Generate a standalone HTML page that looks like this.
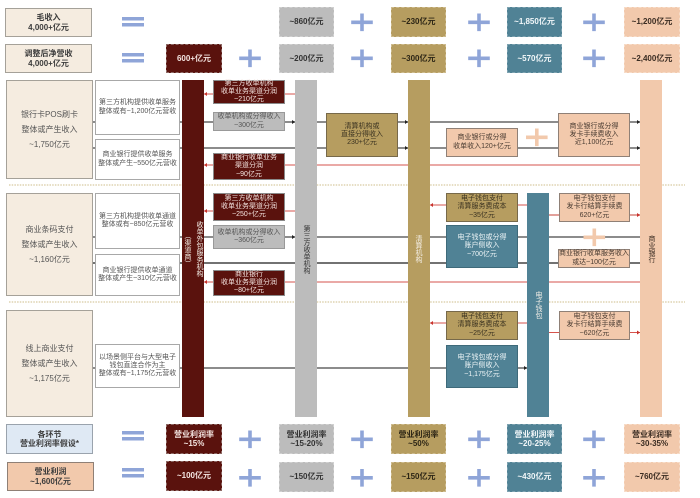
<!DOCTYPE html>
<html lang="zh"><head><meta charset="utf-8">
<style>
html,body{margin:0;padding:0;background:#fff}
#p{position:relative;width:700px;height:498px;overflow:hidden;font-family:"Liberation Sans","Noto Sans CJK SC",sans-serif;color:#3c3c3c;filter:blur(.3px)}
#p>div{position:absolute;box-sizing:border-box;display:flex;align-items:center;justify-content:center;text-align:center;font-size:7px;line-height:8.2px;white-space:nowrap}
svg{position:absolute;left:0;top:0}
.l{background:#f5ece0;border:1.2px solid #a5a199;font-size:8px!important;line-height:15px!important;color:#555}
.h{background:#f5ece0;border:1.2px solid #a5a199;font-size:8px!important;line-height:9.5px!important;font-weight:bold}
.w{background:#fff;border:1.2px solid #a8a8a8;color:#555}
.d{background:#5a120d;color:#f3e3df;border:1px solid #8a8a8a}
.g{background:#bcbcbc;border:1px solid #999;color:#555}
.o{background:#b69d60;border:1px solid #77694a;color:#3a3220}
.t{background:#508295;border:1px solid #3e6a7a;color:#eef5f7}
.e{background:#f2c9ac;border:1px solid #8f8076;color:#4a3c32}
.bar{z-index:1}
.b{font-size:8px!important;line-height:9.5px!important;font-weight:bold;border-style:dashed;border-width:1px}
.b.kd{background:#5a120d;color:#f5e6e2;border-color:#8e6a66}
.b.kg{background:#bcbcbc;color:#333;border-color:#d0d0d0}
.b.ko{background:#b69d60;color:#2c2515;border-color:#cdbb8e}
.b.kt{background:#508295;color:#f2f7f9;border-color:#7da2b0}
.b.ke{background:#f2c9ac;color:#3a2c22;border-color:#f7dcc8}
.v{writing-mode:vertical-rl;color:#f5f0e8;font-size:7px!important;line-height:12px!important;width:12px;height:100px;z-index:2}
</style></head><body><div id="p">
<svg width="700" height="498" viewBox="0 0 700 498">
<g stroke="#d8c9a0" stroke-width="1.2" stroke-dasharray="1.5 1.2"><line x1="9" y1="185" x2="685" y2="185"/><line x1="9" y1="302" x2="685" y2="302"/></g>
<g stroke="#666" stroke-width="1.4" fill="none">
<line x1="93" y1="122" x2="640" y2="122"/><line x1="93" y1="148" x2="640" y2="148"/>
<line x1="93" y1="237" x2="640" y2="237"/><line x1="93" y1="263" x2="640" y2="263" stroke="#444"/>
<line x1="93" y1="368" x2="527" y2="368"/>
</g>
<g stroke="#d6534c" stroke-width="1" fill="none">
<line x1="204" y1="94" x2="295" y2="94"/><line x1="204" y1="165" x2="640" y2="165"/>
<line x1="204" y1="211" x2="295" y2="211"/><line x1="204" y1="282" x2="640" y2="282"/>
<line x1="430" y1="205" x2="527" y2="205"/><line x1="430" y1="323" x2="527" y2="323"/>
<line x1="549" y1="215" x2="640" y2="215" stroke-width="1.4" stroke="#d98078"/><line x1="549" y1="332.500" x2="640" y2="332.500"/>
</g>
<g fill="#c8322c">
<path d="M204 94l3-2v4z"/><path d="M204 165l3-2v4z"/><path d="M204 211l3-2v4z"/><path d="M204 282l3-2v4z"/>
<path d="M430 205l3-2v4z"/><path d="M430 323l3-2v4z"/><path d="M640 215l-3-2v4z"/><path d="M640 332.500l-3-2v4z"/>
</g>
<g fill="#222">
<path d="M295 122l-3-2v4z"/><path d="M295 237l-3-2v4z"/><path d="M408 122l-3-2v4z"/><path d="M408 148l-3-2v4z"/><path d="M640 122l-3-2v4z"/><path d="M640 148l-3-2v4z"/><path d="M527 368l-3-2v4z"/>
</g>
<g fill="#8fa5d8">
<rect x="122" y="17" width="22" height="3.500"/><rect x="122" y="23" width="22" height="3.500"/>
<rect x="122" y="53" width="22" height="3.500"/><rect x="122" y="59" width="22" height="3.500"/>
<rect x="122" y="431" width="22" height="3.500"/><rect x="122" y="437" width="22" height="3.500"/>
<rect x="122" y="468" width="22" height="3.500"/><rect x="122" y="474" width="22" height="3.500"/>
<path d="M360.200 13.500h3.600v7h9v3.600h-9v7h-3.600v-7h-9v-3.600h9z"/>
<path d="M477.200 13.500h3.600v7h9v3.600h-9v7h-3.600v-7h-9v-3.600h9z"/>
<path d="M592.200 13.500h3.600v7h9v3.600h-9v7h-3.600v-7h-9v-3.600h9z"/>
<path d="M248.200 49.500h3.600v7h9v3.600h-9v7h-3.600v-7h-9v-3.600h9z"/>
<path d="M360.200 49.500h3.600v7h9v3.600h-9v7h-3.600v-7h-9v-3.600h9z"/>
<path d="M477.200 49.500h3.600v7h9v3.600h-9v7h-3.600v-7h-9v-3.600h9z"/>
<path d="M592.200 49.500h3.600v7h9v3.600h-9v7h-3.600v-7h-9v-3.600h9z"/>
<path d="M248.200 430.500h3.600v7h9v3.600h-9v7h-3.600v-7h-9v-3.600h9z"/>
<path d="M360.200 430.500h3.600v7h9v3.600h-9v7h-3.600v-7h-9v-3.600h9z"/>
<path d="M477.200 430.500h3.600v7h9v3.600h-9v7h-3.600v-7h-9v-3.600h9z"/>
<path d="M592.200 430.500h3.600v7h9v3.600h-9v7h-3.600v-7h-9v-3.600h9z"/>
<path d="M248.200 469h3.600v7h9v3.600h-9v7h-3.600v-7h-9v-3.600h9z"/>
<path d="M360.200 469h3.600v7h9v3.600h-9v7h-3.600v-7h-9v-3.600h9z"/>
<path d="M477.200 469h3.600v7h9v3.600h-9v7h-3.600v-7h-9v-3.600h9z"/>
<path d="M592.200 469h3.600v7h9v3.600h-9v7h-3.600v-7h-9v-3.600h9z"/>
</g>
<g fill="#f2c9ac">
<path d="M535 128.500h3.600v7h9v3.600h-9v7h-3.600v-7h-9v-3.600h9z"/>
<path d="M592.500 228.500h3.600v7h9v3.600h-9v7h-3.600v-7h-9v-3.600h9z"/>
</g>
</svg>

<div class="h" style="left:5px;top:8px;width:87px;height:29px">毛收入<br>4,000+亿元</div>
<div class="h" style="left:5px;top:44px;width:87px;height:29px">调整后净营收<br>4,000+亿元</div>
<div class="b kd" style="left:166px;top:44px;width:56px;height:29px">600+亿元</div>
<div class="b kg" style="left:279px;top:7px;width:55px;height:30px">~860亿元</div>
<div class="b kg" style="left:279px;top:44px;width:55px;height:29px">~200亿元</div>
<div class="b ko" style="left:391px;top:7px;width:55px;height:30px">~230亿元</div>
<div class="b ko" style="left:391px;top:44px;width:55px;height:29px">~300亿元</div>
<div class="b kt" style="left:507px;top:7px;width:55px;height:30px">~1,850亿元</div>
<div class="b kt" style="left:507px;top:44px;width:55px;height:29px">~570亿元</div>
<div class="b ke" style="left:624px;top:7px;width:56px;height:30px">~1,200亿元</div>
<div class="b ke" style="left:624px;top:44px;width:56px;height:29px">~2,400亿元</div>

<div class="bar" style="left:182px;top:80px;width:22px;height:337px;background:#5a120d"></div>
<div class="bar" style="left:295px;top:80px;width:22px;height:337px;background:#bcbcbc"></div>
<div class="bar" style="left:408px;top:80px;width:22px;height:337px;background:#b69d60"></div>
<div class="bar" style="left:527px;top:193px;width:22px;height:224px;background:#508295"></div>
<div class="bar" style="left:640px;top:80px;width:22px;height:337px;background:#f2c9ac"></div>
<div class="v" style="left:193px;top:199px">收单外包服务机构</div>
<div class="v" style="left:181px;top:199px">（渠道商）</div>
<div class="v" style="left:300px;top:199px;color:#333">第三方收单机构</div>
<div class="v" style="left:412px;top:199px">清算机构</div>
<div class="v" style="left:532px;top:255px">电子钱包</div>
<div class="v" style="left:645px;top:199px;color:#3a2c22">商业银行</div>

<div class="l" style="left:6px;top:80px;width:87px;height:99px">银行卡POS刷卡<br>整体或产生收入<br>~1,750亿元</div>
<div class="w" style="left:95px;top:80px;width:85px;height:55px">第三方机构提供收单服务<br>整体或有~1,200亿元营收</div>
<div class="w" style="left:95px;top:139px;width:85px;height:41px">商业银行提供收单服务<br>整体或产生~550亿元营收</div>
<div class="d" style="left:213px;top:80px;width:72px;height:24px">第三方收单机构<br>收单业务渠道分润<br>~210亿元</div>
<div class="g" style="left:213px;top:112px;width:72px;height:19px">收单机构或分得收入<br>~300亿元</div>
<div class="d" style="left:213px;top:153px;width:72px;height:27px">商业银行收单业务<br>渠道分润<br>~90亿元</div>
<div class="o" style="left:326px;top:113px;width:72px;height:44px">清算机构或<br>直接分得收入<br>230+亿元</div>
<div class="e" style="left:446px;top:128px;width:72px;height:29px">商业银行或分得<br>收单收入120+亿元</div>
<div class="e" style="left:558px;top:113px;width:72px;height:44px">商业银行或分得<br>发卡手续费收入<br>近1,100亿元</div>

<div class="l" style="left:6px;top:193px;width:87px;height:103px">商业条码支付<br>整体或产生收入<br>~1,160亿元</div>
<div class="w" style="left:95px;top:193px;width:85px;height:56px">第三方机构提供收单通道<br>整体或有~850亿元营收</div>
<div class="w" style="left:95px;top:254px;width:85px;height:42px">商业银行提供收单通道<br>整体或产生~310亿元营收</div>
<div class="d" style="left:213px;top:193px;width:72px;height:28px">第三方收单机构<br>收单业务渠道分润<br>~250+亿元</div>
<div class="g" style="left:213px;top:225px;width:72px;height:24px">收单机构或分得收入<br>~360亿元</div>
<div class="d" style="left:213px;top:270px;width:72px;height:26px">商业银行<br>收单业务渠道分润<br>~80+亿元</div>
<div class="o" style="left:446px;top:193px;width:72px;height:29px">电子钱包支付<br>清算服务费成本<br>~35亿元</div>
<div class="t" style="left:446px;top:225px;width:72px;height:43px">电子钱包或分得<br>账户侧收入<br>~700亿元</div>
<div class="e" style="left:559px;top:193px;width:71px;height:29px">电子钱包支付<br>发卡行结算手续费<br>620+亿元</div>
<div class="e" style="left:558px;top:249px;width:72px;height:19px">商业银行收单服务收入<br>或达~100亿元</div>

<div class="l" style="left:6px;top:310px;width:87px;height:107px">线上商业支付<br>整体或产生收入<br>~1,175亿元</div>
<div class="w" style="left:95px;top:344px;width:85px;height:44px">以场景侧平台与大型电子<br>钱包直连合作为主<br>整体或有~1,175亿元营收</div>
<div class="o" style="left:446px;top:311px;width:72px;height:29px">电子钱包支付<br>清算服务费成本<br>~25亿元</div>
<div class="t" style="left:446px;top:345px;width:72px;height:43px">电子钱包或分得<br>账户侧收入<br>~1,175亿元</div>
<div class="e" style="left:559px;top:311px;width:71px;height:29px">电子钱包支付<br>发卡行结算手续费<br>~620亿元</div>

<div class="h" style="left:6px;top:424px;width:87px;height:30px;background:#dfe9f4;border-color:#9aa3ad">各环节<br>营业利润率假设*</div>
<div class="h" style="left:7px;top:462px;width:87px;height:29px;background:#f2c9ac;border-color:#8f8076">营业利润<br>~1,600亿元</div>
<div class="b kd" style="left:166px;top:424px;width:56px;height:30px">营业利润率<br>~15%</div>
<div class="b kg" style="left:279px;top:424px;width:55px;height:30px">营业利润率<br>~15-20%</div>
<div class="b ko" style="left:391px;top:424px;width:55px;height:30px">营业利润率<br>~50%</div>
<div class="b kt" style="left:507px;top:424px;width:55px;height:30px">营业利润率<br>~20-25%</div>
<div class="b ke" style="left:624px;top:424px;width:56px;height:30px">营业利润率<br>~30-35%</div>
<div class="b kd" style="left:166px;top:461px;width:56px;height:30px">~100亿元</div>
<div class="b kg" style="left:279px;top:462px;width:55px;height:30px">~150亿元</div>
<div class="b ko" style="left:391px;top:462px;width:55px;height:30px">~150亿元</div>
<div class="b kt" style="left:507px;top:462px;width:55px;height:30px">~430亿元</div>
<div class="b ke" style="left:624px;top:462px;width:56px;height:30px">~760亿元</div>
</div></body></html>
